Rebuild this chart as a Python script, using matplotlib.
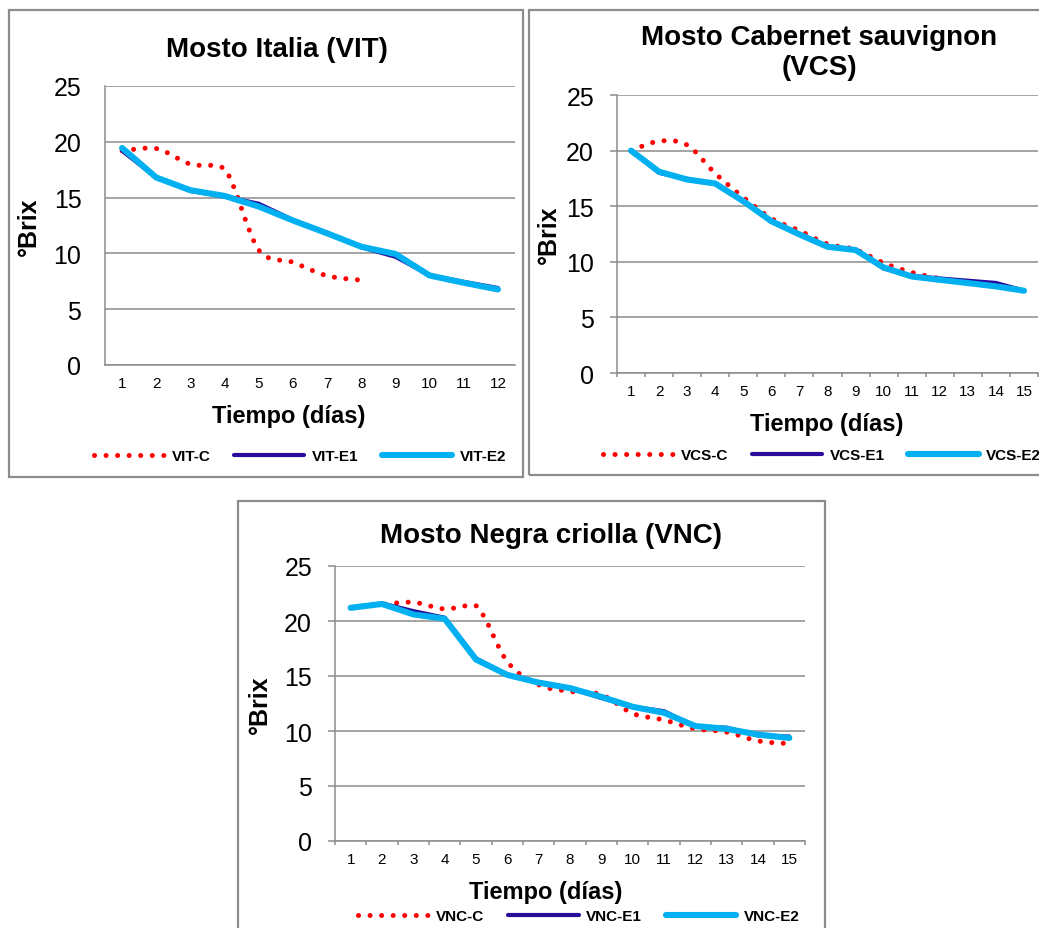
import matplotlib
matplotlib.use("Agg")
import matplotlib.pyplot as plt
from matplotlib.path import Path
from matplotlib.patches import PathPatch, Rectangle
from matplotlib.lines import Line2D

plt.rcParams['font.family'] = ['Liberation Sans', 'DejaVu Sans']

# ---------------- data ----------------
vit_days = list(range(1, 13))
vit_c = [19.2, 19.4, 18.0, 17.6, 10.3, 9.2, 8.0, 7.6]
vit_e1 = [19.2, 16.8, 15.6, 15.1, 14.45, 13.0, 11.85, 10.55, 9.7, 8.05, 7.45, 6.9]
vit_e2 = [19.45, 16.8, 15.66, 15.15, 14.2, 12.95, 11.8, 10.6, 9.95, 8.02, 7.37, 6.77]

vcs_days = list(range(1, 16))
vcs_c = [20.0, 20.85, 20.5, 17.95, 15.8, 13.9, 12.8, 11.6, 11.1, 9.9, 9.05, 8.5, 8.2, 7.9, 7.4]
vcs_e1 = [20.0, 18.0, 17.45, 17.0, 15.5, 13.7, 12.5, 11.4, 11.1, 9.4, 8.75, 8.5, 8.3, 8.1, 7.4]
vcs_e2 = [20.0, 18.1, 17.4, 17.04, 15.45, 13.65, 12.46, 11.35, 11.06, 9.49, 8.68, 8.38, 8.09, 7.79, 7.4]

vnc_days = list(range(1, 16))
vnc_c = [21.2, 21.5, 21.7, 21.1, 21.4, 16.3, 14.2, 13.6, 13.3, 11.6, 11.0, 10.2, 9.9, 9.1, 8.85]
vnc_e1 = [21.2, 21.6, 20.9, 20.3, 16.6, 15.1, 14.4, 13.9, 13.0, 12.2, 11.8, 10.4, 10.3, 9.6, 9.5]
vnc_e2 = [21.2, 21.55, 20.6, 20.2, 16.5, 15.1, 14.4, 13.9, 13.1, 12.2, 11.66, 10.45, 10.2, 9.67, 9.37]

yticks = [0, 5, 10, 15, 20, 25]
titles = ["Mosto Italia (VIT)", "Mosto Cabernet sauvignon\n(VCS)", "Mosto Negra criolla (VNC)"]
series_names = [["VIT-C", "VIT-E1", "VIT-E2"], ["VCS-C", "VCS-E1", "VCS-E2"], ["VNC-C", "VNC-E1", "VNC-E2"]]
xlabel = "Tiempo (días)"
ylabel = "°Brix"

# ---------------- style ----------------
W, H = 1039, 929
RED = '#FF0000'
DARK = '#2A0C9C'
LIGHT = '#00B0F0'
GRAY = '#8C8C8C'
DOT = (0, (0.01, 2.3))

fig = plt.figure(figsize=(W / 100, H / 100), dpi=100)


def rect(l, t, r, b):
    return [l / W, 1 - b / H, (r - l) / W, (b - t) / H]


def smooth_path(xs, ys):
    """Smoothed (Bezier) rendering of the series, like a spreadsheet 'smoothed line'."""
    n = len(xs)
    verts = [(xs[0], ys[0])]
    codes = [Path.MOVETO]
    for i in range(n - 1):
        p0 = (xs[max(i - 1, 0)], ys[max(i - 1, 0)])
        p1 = (xs[i], ys[i])
        p2 = (xs[i + 1], ys[i + 1])
        p3 = (xs[min(i + 2, n - 1)], ys[min(i + 2, n - 1)])
        lo, hi = min(p1[1], p2[1]) - 0.15, max(p1[1], p2[1]) + 0.15
        c1y = min(max(p1[1] + (p2[1] - p0[1]) / 6, lo), hi)
        c2y = min(max(p2[1] - (p3[1] - p1[1]) / 6, lo), hi)
        c1 = (p1[0] + (p2[0] - p0[0]) / 6, c1y)
        c2 = (p2[0] - (p3[0] - p1[0]) / 6, c2y)
        verts += [c1, c2, p2]
        codes += [Path.CURVE4] * 3
    return Path(verts, codes)


def border(l, t, r, b):
    fig.add_artist(Rectangle((l / W, 1 - b / H), (r - l) / W, (b - t) / H,
                             transform=fig.transFigure, fill=False,
                             ec=GRAY, lw=1.6, zorder=0))


def panel(axrect, days, c, e1, e2, names, ticks_out, title, title_xy,
          xl_xy, yl_xy, leg_xy):
    ax = fig.add_axes(axrect)
    n = len(days)
    ax.set_xlim(0.5, n + 0.5)
    ax.set_ylim(0, 25)
    ax.set_yticks(yticks)
    ax.set_xticks(days)
    ax.set_xticklabels([str(d) for d in days])
    ax.grid(axis='y', color=GRAY, lw=1.1)
    ax.set_axisbelow(True)
    for s in ['top', 'right']:
        ax.spines[s].set_visible(False)
    for s in ['left', 'bottom']:
        ax.spines[s].set_color(GRAY)
        ax.spines[s].set_linewidth(1.1)
    if ticks_out:
        ax.tick_params(axis='y', length=5, width=1.1, color=GRAY, pad=11.5, labelsize=18)
        ax.set_xticks([i + 0.5 for i in range(0, n + 1)], minor=True)
        ax.tick_params(axis='x', which='minor', length=3, width=1.1, color=GRAY)
        ax.tick_params(axis='x', which='major', length=0, pad=8.0, labelsize=11)
    else:
        ax.tick_params(axis='y', length=0, pad=17, labelsize=18)
        ax.tick_params(axis='x', length=0, pad=8.0, labelsize=11)

    cx = days[:len(c)]
    patch = PathPatch(smooth_path(cx, c), fill=False, ec=RED, lw=3.6,
                      linestyle=DOT, capstyle='round', zorder=2)
    ax.add_patch(patch)
    l1, = ax.plot(days, e1, color=DARK, lw=3.0, solid_joinstyle='round',
                  solid_capstyle='round', zorder=3)
    l2, = ax.plot(days, e2, color=LIGHT, lw=4.4, solid_joinstyle='round',
                  solid_capstyle='round', zorder=4)
    proxy = Line2D([], [], color=RED, lw=3.6, linestyle=DOT, dash_capstyle='round')

    fig.text(title_xy[0] / W, 1 - title_xy[1] / H, title, ha='center', va='center',
             fontsize=20, fontweight='bold', linespacing=1.18)
    fig.text(xl_xy[0] / W, 1 - xl_xy[1] / H, xlabel, ha='center', va='center',
             fontsize=17, fontweight='bold')
    fig.text(yl_xy[0] / W, 1 - yl_xy[1] / H, ylabel, ha='center', va='center',
             fontsize=18, fontweight='bold', rotation=90)
    fig.legend([proxy, l1, l2], names, loc='center',
               bbox_to_anchor=(leg_xy[0] / W, 1 - leg_xy[1] / H),
               ncol=3, frameon=False, prop={'size': 11, 'weight': 'bold'},
               handlelength=4.6, handletextpad=0.5, columnspacing=1.55)
    return ax


border(9, 11, 523, 478)
border(529, 11, 1060, 476)
border(238, 502, 825, 960)

panel(rect(105, 87, 515, 366), vit_days, vit_c, vit_e1, vit_e2, series_names[0], False,
      titles[0], (277, 50), (289, 416), (29, 227), (300, 457))
panel(rect(617, 96, 1038, 374), vcs_days, vcs_c, vcs_e1, vcs_e2, series_names[1], True,
      titles[1], (819, 53), (827, 425), (549, 235), (822, 456))
panel(rect(335, 567, 805, 842), vnc_days, vnc_c, vnc_e1, vnc_e2, series_names[2], True,
      titles[2], (551, 536), (546, 893), (260, 705), (579, 917))

fig.savefig("out.png", dpi=100)
